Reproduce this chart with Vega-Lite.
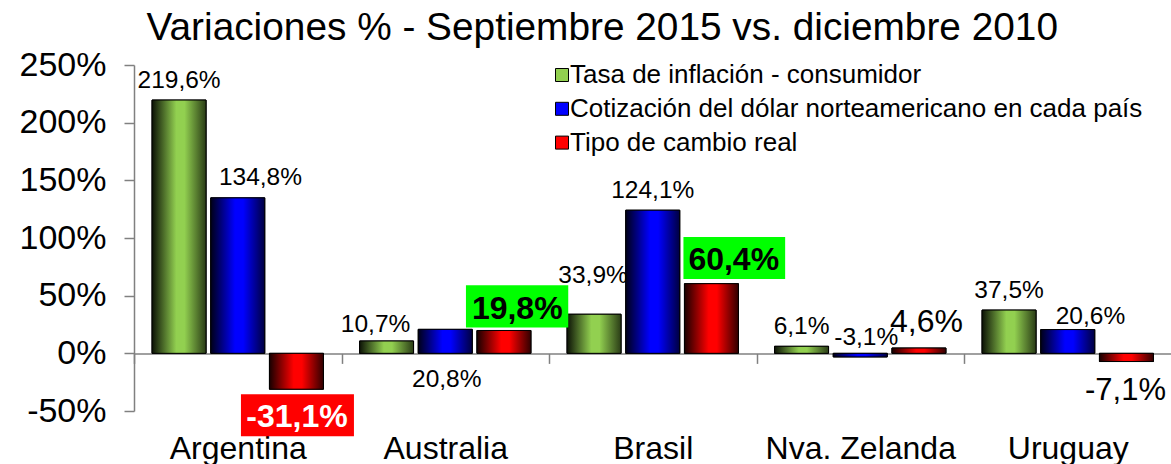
{
  "$schema": "https://vega.github.io/schema/vega-lite/v6.json",
  "width": 1037.5,
  "height": 346,
  "autosize": {"type": "none"},
  "padding": {"left": 134, "top": 65, "right": 0, "bottom": 53},
  "background": "white",
  "title": {
    "text": "Variaciones % - Septiembre 2015 vs. diciembre 2010",
    "font": "Liberation Sans",
    "fontSize": 38.8,
    "fontWeight": "normal",
    "color": "black",
    "anchor": "middle",
    "dx": -50.5,
    "dy": 37,
    "baseline": "alphabetic",
    "offset": 6
  },
  "config": {
    "view": {"stroke": null},
    "font": "Liberation Sans",
    "axis": {"grid": false, "labelFont": "Liberation Sans", "labelColor": "black"}
  },
  "data": {
    "values": [
      {"pais": "Argentina", "serie": "Tasa de inflación - consumidor", "valor": 219.6},
      {"pais": "Argentina", "serie": "Cotización del dólar norteamericano en cada país", "valor": 134.8},
      {"pais": "Argentina", "serie": "Tipo de cambio real", "valor": -31.1},
      {"pais": "Australia", "serie": "Tasa de inflación - consumidor", "valor": 10.7},
      {"pais": "Australia", "serie": "Cotización del dólar norteamericano en cada país", "valor": 20.8},
      {"pais": "Australia", "serie": "Tipo de cambio real", "valor": 19.8},
      {"pais": "Brasil", "serie": "Tasa de inflación - consumidor", "valor": 33.9},
      {"pais": "Brasil", "serie": "Cotización del dólar norteamericano en cada país", "valor": 124.1},
      {"pais": "Brasil", "serie": "Tipo de cambio real", "valor": 60.4},
      {"pais": "Nva. Zelanda", "serie": "Tasa de inflación - consumidor", "valor": 6.1},
      {"pais": "Nva. Zelanda", "serie": "Cotización del dólar norteamericano en cada país", "valor": -3.1},
      {"pais": "Nva. Zelanda", "serie": "Tipo de cambio real", "valor": 4.6},
      {"pais": "Uruguay", "serie": "Tasa de inflación - consumidor", "valor": 37.5},
      {"pais": "Uruguay", "serie": "Cotización del dólar norteamericano en cada país", "valor": 20.6},
      {"pais": "Uruguay", "serie": "Tipo de cambio real", "valor": -7.1}
    ]
  },
  "transform": [
    {"calculate": "replace(toString(datum.valor), '.', ',') + '%'", "as": "etiqueta"}
  ],
  "encoding": {
    "x": {
      "field": "pais", "type": "nominal",
      "sort": ["Argentina", "Australia", "Brasil", "Nva. Zelanda", "Uruguay"],
      "scale": {"paddingInner": 0, "paddingOuter": 0},
      "axis": {
        "title": null, "orient": "bottom", "offset": -57.6,
        "domainColor": "#808080", "domainWidth": 1.5,
        "tickBand": "extent", "tickColor": "#808080", "tickWidth": 1.5, "tickSize": 10,
        "labelFontSize": 32, "labelAngle": 0, "labelBaseline": "alphabetic", "labelPadding": 94.6,
        "labelLimit": 0
      }
    },
    "xOffset": {
      "field": "serie", "type": "nominal",
      "sort": ["Tasa de inflación - consumidor", "Cotización del dólar norteamericano en cada país", "Tipo de cambio real"],
      "scale": {
        "domain": ["Tasa de inflación - consumidor", "Cotización del dólar norteamericano en cada país", "Tipo de cambio real"],
        "paddingInner": 0.08, "paddingOuter": 0.3075
      }
    },
    "y": {
      "field": "valor", "type": "quantitative",
      "scale": {"domain": [-50, 250], "nice": false},
      "axis": {
        "title": null, "values": [-50, 0, 50, 100, 150, 200, 250],
        "labelExpr": "datum.value + '%'",
        "domainColor": "#808080", "domainWidth": 1.5,
        "tickColor": "#808080", "tickWidth": 1.5, "tickSize": 10,
        "labelFontSize": 34, "labelPadding": 18
      }
    }
  },
  "layer": [
    {
      "mark": {"type": "bar", "stroke": "#000", "strokeWidth": 1},
      "encoding": {
        "color": {
          "field": "serie", "type": "nominal",
          "scale": {
            "domain": ["Tasa de inflación - consumidor", "Cotización del dólar norteamericano en cada país", "Tipo de cambio real"],
            "range": ["#92d050", "#0000ff", "#ff0000"]
          },
          "legend": {
            "title": null, "orient": "none", "legendX": 415, "legendY": -3,
            "symbolType": "square", "symbolSize": 169, "symbolStrokeColor": "#000", "symbolStrokeWidth": 1,
            "symbolOpacity": 1,
            "labelFontSize": 26, "labelFont": "Liberation Sans", "labelColor": "black",
            "labelLimit": 0, "labelOffset": -5, "rowPadding": 7.8
          }
        }
      }
    },
    {
      "transform": [{"filter": {"field": "serie", "equal": "Tasa de inflación - consumidor"}}],
      "mark": {"type": "bar", "stroke": "#000", "strokeWidth": 1,
        "fill": {"gradient": "linear", "x1": 0, "y1": 0, "x2": 1, "y2": 0,
          "stops": [{"offset": 0, "color": "#0c1206"}, {"offset": 0.45, "color": "#92d050"}, {"offset": 0.6, "color": "#92d050"}, {"offset": 1, "color": "#2a3c16"}]}}
    },
    {
      "transform": [{"filter": {"field": "serie", "equal": "Cotización del dólar norteamericano en cada país"}}],
      "mark": {"type": "bar", "stroke": "#000", "strokeWidth": 1,
        "fill": {"gradient": "linear", "x1": 0, "y1": 0, "x2": 1, "y2": 0,
          "stops": [{"offset": 0, "color": "#000018"}, {"offset": 0.45, "color": "#0000ff"}, {"offset": 0.6, "color": "#0000ff"}, {"offset": 1, "color": "#000040"}]}}
    },
    {
      "transform": [{"filter": {"field": "serie", "equal": "Tipo de cambio real"}}],
      "mark": {"type": "bar", "stroke": "#000", "strokeWidth": 1,
        "fill": {"gradient": "linear", "x1": 0, "y1": 0, "x2": 1, "y2": 0,
          "stops": [{"offset": 0, "color": "#180000"}, {"offset": 0.45, "color": "#ff0000"}, {"offset": 0.6, "color": "#ff0000"}, {"offset": 1, "color": "#300000"}]}}
    },
    {
      "transform": [{"filter": {"and": [{"field": "pais", "equal": "Argentina"}, {"field": "serie", "equal": "Tipo de cambio real"}]}}],
      "mark": {"type": "point", "filled": true, "opacity": 1, "strokeWidth": 0, "color": "#ff0000", "size": 4, "shape": "M-55.5,5H57.5V47H-55.5Z"}
    },
    {
      "transform": [{"filter": {"and": [{"field": "pais", "equal": "Australia"}, {"field": "serie", "equal": "Tipo de cambio real"}]}}],
      "mark": {"type": "point", "filled": true, "opacity": 1, "strokeWidth": 0, "color": "#00ff00", "size": 4, "shape": "M-38,-45.3H64.3V-3H-38Z"}
    },
    {
      "transform": [{"filter": {"and": [{"field": "pais", "equal": "Brasil"}, {"field": "serie", "equal": "Tipo de cambio real"}]}}],
      "mark": {"type": "point", "filled": true, "opacity": 1, "strokeWidth": 0, "color": "#00ff00", "size": 4, "shape": "M-28,-46.6H73.7V-4.6H-28Z"}
    },
    {
      "transform": [{"filter": {"or": [
        {"and": [{"field": "pais", "equal": "Argentina"}, {"field": "serie", "equal": "Tasa de inflación - consumidor"}]},
        {"and": [{"field": "pais", "equal": "Brasil"}, {"field": "serie", "equal": "Cotización del dólar norteamericano en cada país"}]},
        {"and": [{"field": "pais", "equal": "Nva. Zelanda"}, {"field": "serie", "equal": "Tasa de inflación - consumidor"}]},
        {"and": [{"field": "pais", "equal": "Uruguay"}, {"field": "serie", "equal": "Tasa de inflación - consumidor"}]}
      ]}}],
      "mark": {"type": "text", "font": "Liberation Sans", "fontSize": 24.5, "color": "black", "align": "center", "baseline": "alphabetic", "dx": 0, "dy": -12},
      "encoding": {"text": {"field": "etiqueta"}}
    },
    {
      "transform": [{"filter": {"and": [{"field": "pais", "equal": "Argentina"}, {"field": "serie", "equal": "Cotización del dólar norteamericano en cada país"}]}}],
      "mark": {"type": "text", "font": "Liberation Sans", "fontSize": 24.5, "color": "black", "align": "center", "baseline": "alphabetic", "dx": 22.7, "dy": -12.7},
      "encoding": {"text": {"field": "etiqueta"}}
    },
    {
      "transform": [{"filter": {"and": [{"field": "pais", "equal": "Australia"}, {"field": "serie", "equal": "Tasa de inflación - consumidor"}]}}],
      "mark": {"type": "text", "font": "Liberation Sans", "fontSize": 24.5, "color": "black", "align": "center", "baseline": "alphabetic", "dx": -11, "dy": -9},
      "encoding": {"text": {"field": "etiqueta"}}
    },
    {
      "transform": [{"filter": {"and": [{"field": "pais", "equal": "Australia"}, {"field": "serie", "equal": "Cotización del dólar norteamericano en cada país"}]}}],
      "mark": {"type": "text", "font": "Liberation Sans", "fontSize": 24.5, "color": "black", "align": "center", "baseline": "alphabetic", "dx": 1.5, "dy": 58},
      "encoding": {"text": {"field": "etiqueta"}}
    },
    {
      "transform": [{"filter": {"and": [{"field": "pais", "equal": "Brasil"}, {"field": "serie", "equal": "Tasa de inflación - consumidor"}]}}],
      "mark": {"type": "text", "font": "Liberation Sans", "fontSize": 24.5, "color": "black", "align": "center", "baseline": "alphabetic", "dx": -1, "dy": -31},
      "encoding": {"text": {"field": "etiqueta"}}
    },
    {
      "transform": [{"filter": {"and": [{"field": "pais", "equal": "Nva. Zelanda"}, {"field": "serie", "equal": "Cotización del dólar norteamericano en cada país"}]}}],
      "mark": {"type": "text", "font": "Liberation Sans", "fontSize": 24.5, "color": "black", "align": "center", "baseline": "alphabetic", "dx": 6, "dy": -12},
      "encoding": {"text": {"field": "etiqueta"}}
    },
    {
      "transform": [{"filter": {"and": [{"field": "pais", "equal": "Uruguay"}, {"field": "serie", "equal": "Cotización del dólar norteamericano en cada país"}]}}],
      "mark": {"type": "text", "font": "Liberation Sans", "fontSize": 24.5, "color": "black", "align": "center", "baseline": "alphabetic", "dx": 22.7, "dy": -6},
      "encoding": {"text": {"field": "etiqueta"}}
    },
    {
      "transform": [{"filter": {"and": [{"field": "pais", "equal": "Nva. Zelanda"}, {"field": "serie", "equal": "Tipo de cambio real"}]}}],
      "mark": {"type": "text", "font": "Liberation Sans", "fontSize": 32, "color": "black", "align": "center", "baseline": "alphabetic", "dx": 7.5, "dy": -16},
      "encoding": {"text": {"field": "etiqueta"}}
    },
    {
      "transform": [{"filter": {"and": [{"field": "pais", "equal": "Uruguay"}, {"field": "serie", "equal": "Tipo de cambio real"}]}}],
      "mark": {"type": "text", "font": "Liberation Sans", "fontSize": 31, "color": "black", "align": "center", "baseline": "alphabetic", "dx": -1, "dy": 38},
      "encoding": {"text": {"field": "etiqueta"}}
    },
    {
      "transform": [{"filter": {"and": [{"field": "pais", "equal": "Argentina"}, {"field": "serie", "equal": "Tipo de cambio real"}]}}],
      "mark": {"type": "text", "font": "Liberation Sans", "fontSize": 32, "fontWeight": "bold", "color": "white", "align": "center", "baseline": "alphabetic", "dx": 0.5, "dy": 37.4},
      "encoding": {"text": {"field": "etiqueta"}}
    },
    {
      "transform": [{"filter": {"and": [{"field": "pais", "equal": "Australia"}, {"field": "serie", "equal": "Tipo de cambio real"}]}}],
      "mark": {"type": "text", "font": "Liberation Sans", "fontSize": 32, "fontWeight": "bold", "color": "black", "align": "center", "baseline": "alphabetic", "dx": 13.3, "dy": -11},
      "encoding": {"text": {"field": "etiqueta"}}
    },
    {
      "transform": [{"filter": {"and": [{"field": "pais", "equal": "Brasil"}, {"field": "serie", "equal": "Tipo de cambio real"}]}}],
      "mark": {"type": "text", "font": "Liberation Sans", "fontSize": 32, "fontWeight": "bold", "color": "black", "align": "center", "baseline": "alphabetic", "dx": 22.3, "dy": -13.3},
      "encoding": {"text": {"field": "etiqueta"}}
    }
  ]
}
